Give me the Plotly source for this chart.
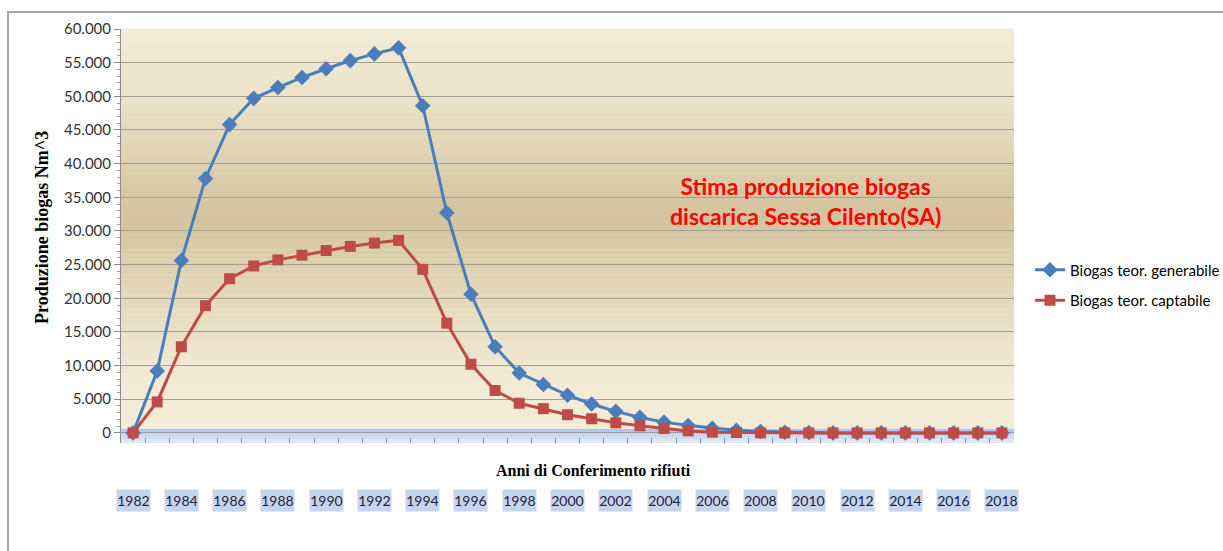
import plotly.graph_objects as go

years = list(range(1982, 2019))
tick_years = list(range(1982, 2019, 2))

biogas_generabile = [0, 9200, 25600, 37800, 45800, 49700, 51300, 52800, 54100, 55300,
                     56300, 57200, 48600, 32700, 20600, 12800, 8900, 7200, 5600, 4300,
                     3200, 2300, 1600, 1100, 700, 400, 200, 100, 50, 0,
                     0, 0, 0, 0, 0, 0, 0]
biogas_captabile = [0, 4600, 12800, 18900, 22900, 24800, 25700, 26400, 27100, 27700,
                    28200, 28600, 24300, 16300, 10200, 6300, 4400, 3600, 2700, 2100,
                    1500, 1050, 650, 300, 100, 50, 0, 0, 0, 0,
                    0, 0, 0, 0, 0, 0, 0]

W, H = 1223, 551
L, R, T, B = 121, 1014, 29, 443   # plot area pixel box

def fx(px):
    return (px - L) / (R - L)

def fy(py):
    return (B - py) / (B - T)

def hex2rgb(h):
    h = h.lstrip('#')
    return tuple(int(h[i:i+2], 16) for i in (0, 2, 4))

def lerp_color(stops, p):
    for (p0, c0), (p1, c1) in zip(stops, stops[1:]):
        if p0 <= p <= p1:
            t = (p - p0) / (p1 - p0) if p1 > p0 else 0
            a, b = hex2rgb(c0), hex2rgb(c1)
            return 'rgb(%d,%d,%d)' % tuple(round(a[i] + (b[i] - a[i]) * t) for i in range(3))
    return stops[-1][1]

bg_stops = [(29, '#f2ecd7'), (100, '#ebe2c7'), (215, '#d3c39e'), (330, '#e9e0c5'),
            (385, '#f2ebd6'), (431, '#f2ebd6')]
floor_stops = [(429, '#a9c1e8'), (436, '#c9d8f2'), (443, '#e3ebf8')]

shapes = []
n = 80
top, bot = 29, 430
for i in range(n):
    y0p = top + (bot - top) * i / n
    y1p = top + (bot - top) * (i + 1) / n
    shapes.append(dict(type='rect', xref='x domain', yref='y domain', x0=0, x1=1,
                       y0=fy(y1p), y1=fy(y0p) + 0.001, line_width=0,
                       fillcolor=lerp_color(bg_stops, (y0p + y1p) / 2), layer='below'))
m = 8
for i in range(m):
    y0p = 429.5 + (443 - 429.5) * i / m
    y1p = 429.5 + (443 - 429.5) * (i + 1) / m
    shapes.append(dict(type='rect', xref='x domain', yref='y domain', x0=0, x1=1,
                       y0=fy(y1p), y1=fy(y0p) + 0.001, line_width=0,
                       fillcolor=lerp_color(floor_stops, (y0p + y1p) / 2), layer='below'))
# outer chart border
shapes.append(dict(type='rect', xref='paper', yref='paper', x0=fx(8), x1=fx(1240),
                   y0=fy(570), y1=fy(12), line=dict(color='#a6a6a6', width=2),
                   fillcolor='rgba(0,0,0,0)'))

fig = go.Figure()
fig.add_trace(go.Scatter(x=years, y=biogas_generabile, mode='lines+markers',
                         name='Biogas teor. generabile', legendgroup='a',
                         line=dict(color='#4a7ebb', width=3),
                         marker=dict(symbol='diamond', size=12, color='#4a7ebb')))
fig.add_trace(go.Scatter(x=years, y=biogas_captabile, mode='lines+markers',
                         name='Biogas teor. captabile', legendgroup='b',
                         line=dict(color='#be4b48', width=3),
                         marker=dict(symbol='square', size=11, color='#be4b48')))

annotations = []
for yr in tick_years:
    annotations.append(dict(x=yr, xref='x', y=fy(500), yref='paper', text=str(yr),
                            showarrow=False, font=dict(family='Lato', size=14, color='#1f1f3a'),
                            bgcolor='#c5d4ef', borderpad=0, width=33, height=21,
                            xanchor='center', yanchor='middle'))
annotations.append(dict(x=fx(593), y=fy(470), xref='paper', yref='paper',
                        xanchor='center', yanchor='middle',
                        text='<b>Anni di Conferimento rifiuti</b>', showarrow=False,
                        font=dict(family='Liberation Serif', size=16, color='#000000')))
annotations.append(dict(x=fx(42), y=fy(228), xref='paper', yref='paper', textangle=-90,
                        xanchor='center', yanchor='middle',
                        text='<b>Produzione biogas Nm^3</b>', showarrow=False,
                        font=dict(family='Liberation Serif', size=18, color='#000000')))
annotations.append(dict(x=fx(805), y=fy(201), xref='paper', yref='paper',
                        xanchor='center', yanchor='middle',
                        text='<b>Stima produzione biogas<br>discarica Sessa Cilento(SA)</b>',
                        showarrow=False, align='center',
                        font=dict(family='Lato', size=23, color='#ff0000')))

fig.update_layout(
    width=W, height=H,
    margin=dict(l=L, r=W - R, t=T, b=H - B, pad=0, autoexpand=False),
    paper_bgcolor='white', plot_bgcolor='rgba(0,0,0,0)',
    separators=',.',
    showlegend=True,
    legend=dict(x=fx(1030), y=fy(285), xanchor='left', yanchor='middle',
                font=dict(family='Lato', size=15, color='#000000'),
                traceorder='grouped', tracegroupgap=8, bgcolor='rgba(0,0,0,0)'),
    shapes=shapes, annotations=annotations,
    xaxis=dict(range=[1981.5, 2018.5], showgrid=False, zeroline=False,
               showticklabels=False, tickmode='array',
               tickvals=[y + 0.5 for y in range(1981, 2019)],
               ticks='inside', ticklen=5, tickcolor='#8c8c8c', showline=False),
    yaxis=dict(range=[-1500, 60000], tickmode='array',
               tickvals=list(range(0, 60001, 5000)), tickformat=',d',
               showgrid=True, gridcolor='#a39e94', gridwidth=1, zeroline=False,
               showline=True, linecolor='#8c8c8c', linewidth=1,
               ticks='outside', ticklen=6, tickcolor='#8c8c8c',
               minor=dict(tickvals=list(range(0, 60001, 1000)), ticks='outside',
                          ticklen=3, tickcolor='#a0a0a0', showgrid=False),
               tickfont=dict(family='Lato', size=15, color='#333333')),
)
fig.write_html('out.html')
